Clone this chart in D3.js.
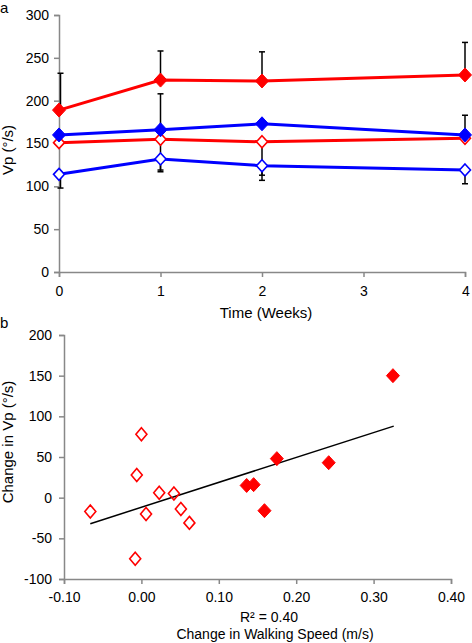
<!DOCTYPE html>
<html><head><meta charset="utf-8">
<script src="https://cdn.jsdelivr.net/npm/d3@7/dist/d3.min.js"></script>
<style>body{margin:0;background:#fff}svg{display:block;font-family:"Liberation Sans",Arial,sans-serif}</style>
</head><body>
<script>
// ---- Panel a data ----
const weeks = [0, 1, 2, 4];
const weekTicks = [0, 1, 2, 3, 4];
const vpTicks = [0, 50, 100, 150, 200, 250, 300];
const redFilled = [189, 224, 223, 230];
const redFilledErrUp = [43, 34, 34, 38];
const blueFilled = [160, 166, 173, 160];
const blueFilledErrUp = [null, 42, null, 23];
const redOpen = [151, 155, 152, 156];
const redOpenErrDown = [null, 38, 45, null];
const blueOpen = [114, 132, 124, 119];
const blueOpenErrDown = [16, 13, 11, 16];

// ---- Panel b data ----
const openX = [-0.066, -0.006, 0.0, -0.008, 0.023, 0.006, 0.042, 0.051, 0.062];
const openY = [-17, 28, 78, -75, 6, -20, 5, -14, -31];
const filledX = [0.136, 0.145, 0.159, 0.175, 0.242, 0.325];
const filledY = [15, 16, -16, 48, 43, 150];
const trendX = [-0.066, 0.326];
const trendY = [-32, 88];
const speedTicks = [-0.1, 0, 0.1, 0.2, 0.3, 0.4];
const changeTicks = [-100, -50, 0, 50, 100, 150, 200];

const W = 472, H = 643;
const svg = d3.select("body").append("svg").attr("width", W).attr("height", H);
const AXC = "#888", FS = 14, TS = 15;
const FONT = "Liberation Sans, Arial, sans-serif";

function diamond(w, h) { return `M0,${-h}L${w},0L0,${h}L${-w},0Z`; }
function styleAxis(a) {
  a.select(".domain").attr("stroke", AXC).attr("stroke-width", 1.5);
  a.selectAll(".tick line").attr("stroke", AXC).attr("stroke-width", 1.5);
  a.selectAll("text").attr("font-size", FS).attr("fill", "#000").attr("font-family", FONT);
}

// ===== Panel a =====
const xa = d3.scaleLinear().domain([0, 4]).range([59, 465]);
const ya = d3.scaleLinear().domain([0, 300]).range([272, 15]);
const ga = svg.append("g");

const yAxA = ga.append("g").attr("transform", `translate(${xa(0)},0)`)
  .call(d3.axisLeft(ya).tickValues(vpTicks).tickSize(5).tickPadding(5));
const xAxA = ga.append("g").attr("transform", `translate(0,${ya(0)})`)
  .call(d3.axisBottom(xa).tickValues(weekTicks).tickSize(5).tickPadding(9).tickFormat(d => String(d)));
styleAxis(yAxA); styleAxis(xAxA);
xAxA.selectAll(".tick text").filter(d => d === 4).attr("text-anchor", "end").attr("dx", "0.3em");

// error bars
function errBars(vals, errs, dir) {
  const g = ga.append("g").attr("stroke", "#000").attr("stroke-width", 1.5);
  weeks.forEach((w, i) => {
    if (errs[i] == null) return;
    const x = xa(w) + (w === 0 ? 1.5 : 0), y0 = ya(vals[i]), y1 = ya(vals[i] + dir * errs[i]);
    g.append("line").attr("x1", x).attr("x2", x).attr("y1", y0).attr("y2", y1);
    g.append("line").attr("x1", x - 3).attr("x2", x + 3).attr("y1", y1).attr("y2", y1);
  });
}
errBars(redFilled, redFilledErrUp, 1);
errBars(blueFilled, blueFilledErrUp, 1);
errBars(redOpen, redOpenErrDown, -1);
errBars(blueOpen, blueOpenErrDown, -1);

const line = d3.line().x((d, i) => xa(weeks[i])).y(d => ya(d));
const seriesA = [
  {v: blueOpen, c: "#0000ff", fill: false},
  {v: redOpen, c: "#ff0000", fill: false},
  {v: blueFilled, c: "#0000ff", fill: true},
  {v: redFilled, c: "#ff0000", fill: true}
];
seriesA.forEach(s => {
  ga.append("path").datum(s.v).attr("d", line).attr("fill", "none")
    .attr("stroke", s.c).attr("stroke-width", 3);
});
seriesA.forEach(s => {
  ga.append("g").selectAll("path").data(s.v).join("path")
    .attr("transform", (d, i) => `translate(${xa(weeks[i])},${ya(d)})`)
    .attr("d", s.fill ? diamond(6.5, 7) : diamond(5.5, 6))
    .attr("fill", s.fill ? s.c : "#fff").attr("stroke", s.c).attr("stroke-width", s.fill ? 1 : 1.6);
});

ga.append("text").attr("x", 266).attr("y", 318).attr("text-anchor", "middle")
  .attr("font-size", TS).text("Time (Weeks)");
ga.append("text").attr("transform", `translate(13,150) rotate(-90)`).attr("text-anchor", "middle")
  .attr("font-size", TS).text("Vp (°/s)");
svg.append("text").attr("x", 0).attr("y", 13).attr("font-size", 15).text("a");

// ===== Panel b =====
const xb = d3.scaleLinear().domain([-0.1, 0.4]).range([64, 451]);
const yb = d3.scaleLinear().domain([-100, 200]).range([579, 335]);
const gb = svg.append("g");
const yAxB = gb.append("g").attr("transform", `translate(${xb(-0.1)},0)`)
  .call(d3.axisLeft(yb).tickValues(changeTicks).tickSize(5).tickPadding(7).tickFormat(d => String(d)));
const xAxB = gb.append("g").attr("transform", `translate(0,${yb(-100)})`)
  .call(d3.axisBottom(xb).tickValues(speedTicks).tickSize(5).tickPadding(8)
    .tickFormat(d => d3.format(".2f")(d).replace("−", "-")));
styleAxis(yAxB); styleAxis(xAxB);

gb.append("line").attr("x1", xb(trendX[0])).attr("y1", yb(trendY[0]))
  .attr("x2", xb(trendX[1])).attr("y2", yb(trendY[1])).attr("stroke", "#000").attr("stroke-width", 1.5);

gb.append("g").selectAll("path").data(openX).join("path")
  .attr("transform", (d, i) => `translate(${xb(d)},${yb(openY[i])})`)
  .attr("d", diamond(5.5, 6.5)).attr("fill", "none").attr("stroke", "#ff0000").attr("stroke-width", 1.6);
gb.append("g").selectAll("path").data(filledX).join("path")
  .attr("transform", (d, i) => `translate(${xb(d)},${yb(filledY[i])})`)
  .attr("d", diamond(6.5, 7)).attr("fill", "#ff0000").attr("stroke", "#ff0000").attr("stroke-width", 1);

gb.append("text").attr("x", 269).attr("y", 622).attr("text-anchor", "middle")
  .attr("font-size", 14).text("R² = 0.40");
gb.append("text").attr("x", 275).attr("y", 639).attr("text-anchor", "middle")
  .attr("font-size", 14).text("Change in Walking Speed (m/s)");
gb.append("text").attr("transform", `translate(13,442) rotate(-90)`).attr("text-anchor", "middle")
  .attr("font-size", TS).text("Change in Vp (°/s)");
svg.append("text").attr("x", 0).attr("y", 328).attr("font-size", 15).text("b");
</script>
</body></html>
